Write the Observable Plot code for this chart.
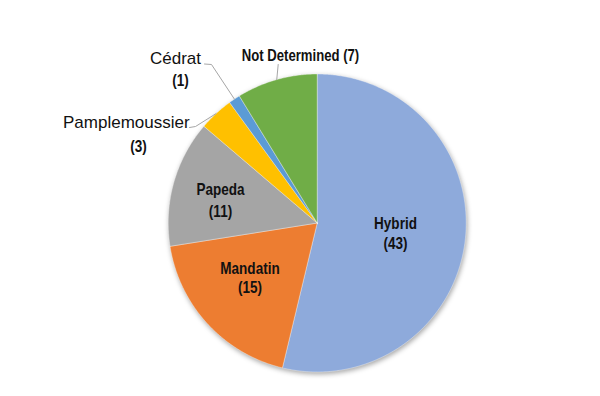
<!DOCTYPE html>
<html><head><meta charset="utf-8">
<script src="https://cdn.jsdelivr.net/npm/d3@7"></script>
<script src="https://cdn.jsdelivr.net/npm/@observablehq/plot@0.6"></script>
<style>body{margin:0;background:#fff}</style>
</head><body><div id="chart"></div>
<script>
// ---- data ----
const categories = ["Hybrid", "Mandatin", "Papeda", "Pamplemoussier", "Cédrat", "Not Determined"];
const counts = [43, 15, 11, 3, 1, 7];
const countLabels = ["(43)", "(15)", "(11)", "(3)", "(1)", "(7)"];
const colors = ["#8eaadb", "#ed7d31", "#a5a5a5", "#ffc000", "#5b9bd5", "#70ad47"];

// ---- layout (pixels) ----
const W = 600, H = 396, CX = 316.7, CY = 222.5, R = 149;
const px = x => x - CX, py = y => CY - y;
const labelLayout = {
  "Hybrid":        {name: [395, 228.3], count: [395, 248], inside: true},
  "Mandatin":      {name: [249.5, 273.3], count: [249.5, 292.5], inside: true},
  "Papeda":        {name: [220, 194.5], count: [220, 216.5], inside: true},
  "Pamplemoussier":{name: [125.8, 127.3], count: [138, 151], inside: false, leader: [[189, 127], [195, 126]]},
  "Cédrat":        {name: [175, 63.3], count: [180, 85.5], inside: false, leader: [[204, 63.5], [211, 64]]},
  "Not Determined":{single: [300, 60.7], leader: [[277.7, 64]]}
};

const arcs = d3.pie().sort(null).value(d => d)(counts);

const sliceRows = [];
arcs.forEach((a, i) => {
  sliceRows.push({k: i, x: 0, y: 0});
  const n = Math.max(2, Math.ceil((a.endAngle - a.startAngle) / (Math.PI / 360)));
  for (let j = 0; j <= n; j++) {
    const t = a.startAngle + (a.endAngle - a.startAngle) * j / n;
    sliceRows.push({k: i, x: R * Math.sin(t), y: R * Math.cos(t)});
  }
  sliceRows.push({k: i, x: 0, y: 0});
});

const leaderRows = [];
arcs.forEach((a, i) => {
  const L = labelLayout[categories[i]];
  if (!L.leader) return;
  const mid = (a.startAngle + a.endAngle) / 2;
  L.leader.forEach(p => leaderRows.push({k: i, x: px(p[0]), y: py(p[1])}));
  leaderRows.push({k: i, x: R * Math.sin(mid), y: R * Math.cos(mid)});
});

const font = "'Liberation Sans', Arial, sans-serif";

const nameRows = [], countRows = [], singleRows = [];
categories.forEach((c, i) => {
  const L = labelLayout[c];
  if (L.single) { singleRows.push({t: `${c} ${countLabels[i]}`, x: px(L.single[0]), y: py(L.single[1])}); return; }
  nameRows.push({t: c, x: px(L.name[0]), y: py(L.name[1]), inside: L.inside});
  countRows.push({t: countLabels[i], x: px(L.count[0]), y: py(L.count[1])});
});

const chart = Plot.plot({
  width: W, height: H, margin: 0,
  x: {domain: [-CX, W - CX], axis: null},
  y: {domain: [CY - H, CY], axis: null},
  color: {type: "identity"},
  style: {background: "#fff"},
  marks: [
    Plot.line(sliceRows, {x: "x", y: "y", z: "k", fill: d => colors[d.k], stroke: "#ffffff", strokeWidth: 0.6, strokeOpacity: 0.6}),
    Plot.line(leaderRows, {x: "x", y: "y", z: "k", stroke: "#a6a6a6", strokeWidth: 1}),
    Plot.text(nameRows.filter(d => d.inside), {x: "x", y: "y", text: "t", textAnchor: "middle", lineAnchor: "bottom", fontFamily: font, fontWeight: "bold", fontSize: 16.5, fill: "#111"}),
    Plot.text(nameRows.filter(d => !d.inside), {x: "x", y: "y", text: "t", textAnchor: "middle", lineAnchor: "bottom", fontFamily: font, fontSize: 17, fill: "#111"}),
    Plot.text(countRows, {x: "x", y: "y", text: "t", textAnchor: "middle", lineAnchor: "bottom", fontFamily: font, fontWeight: "bold", fontSize: 16.5, fill: "#111"}),
    Plot.text(singleRows, {x: "x", y: "y", text: "t", textAnchor: "middle", lineAnchor: "bottom", fontFamily: font, fontWeight: "bold", fontSize: 16, fill: "#111"})
  ]
});
const g = chart.querySelectorAll('g[aria-label="line"]')[0];
if (g) g.style.filter = "drop-shadow(1px 2px 2.5px rgba(0,0,0,0.35))";
// condensed look for bold labels
const tg = chart.querySelectorAll('g[aria-label="text"]');
[0, 2, 3].forEach(i => {
  if (!tg[i]) return;
  tg[i].querySelectorAll("text").forEach(t => {
    const tr = t.getAttribute("transform") || "";
    t.setAttribute("transform", tr + " scale(0.82,1)");
  });
});
document.getElementById("chart").appendChild(chart);
</script>
</body></html>
